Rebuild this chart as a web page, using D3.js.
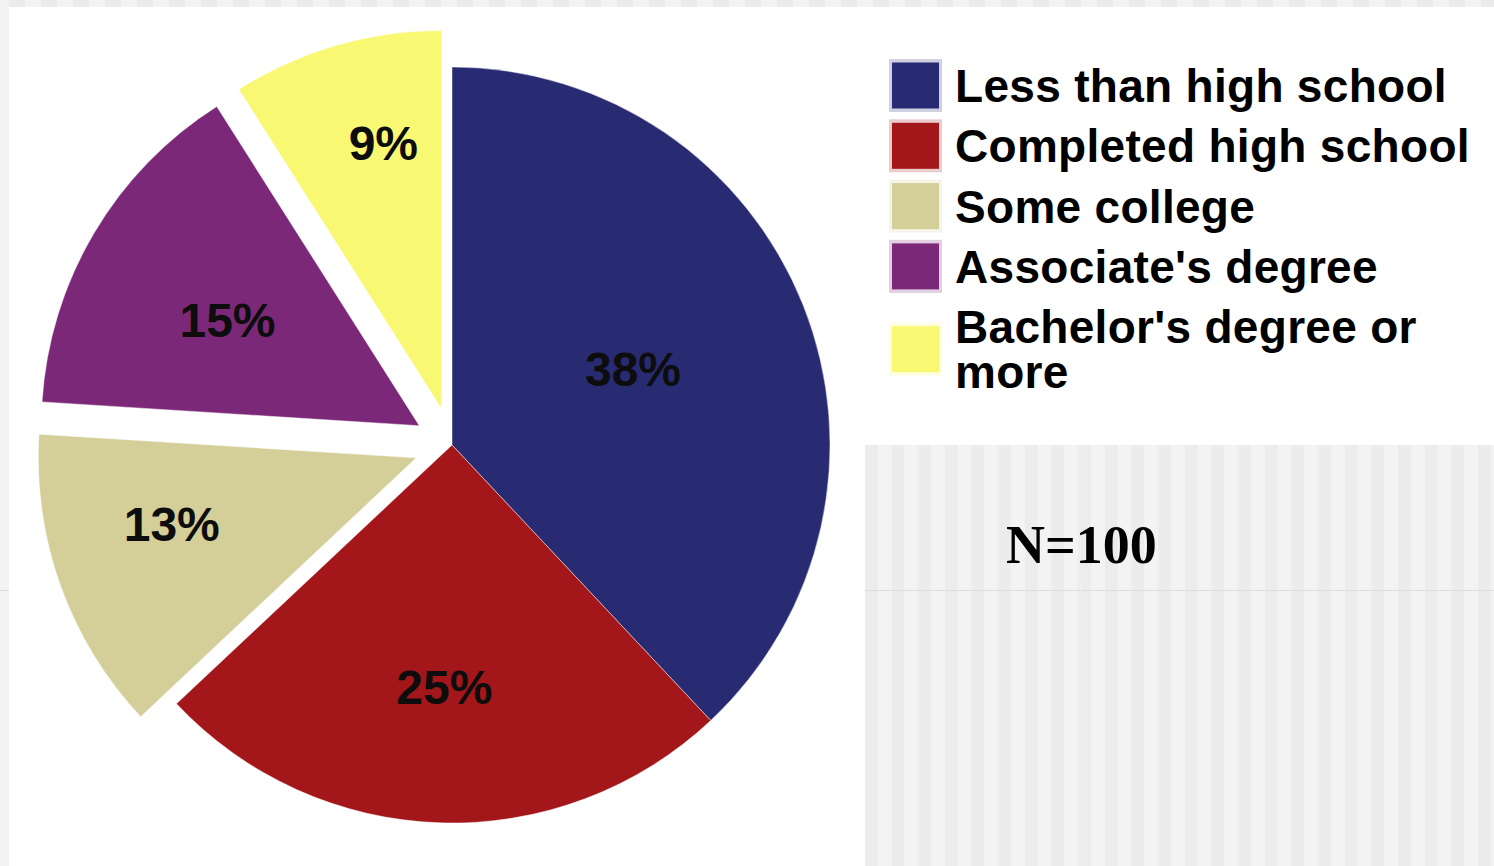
<!DOCTYPE html>
<html>
<head>
<meta charset="utf-8">
<script src="https://cdn.jsdelivr.net/npm/d3@7"></script>
<style>
  html, body { margin: 0; padding: 0; background: #f3f3f3; }
  svg { display: block; }
</style>
</head>
<body>
<svg id="chart" width="1494" height="866"></svg>
<script>
// Education level of respondents (percent of N=100)
const categories = [
  "Less than high school",
  "Completed high school",
  "Some college",
  "Associate's degree",
  "Bachelor's degree or more"
];
const values = [38, 25, 13, 15, 9];
const colors = ["#282a72", "#a3161a", "#d4ce98", "#7c2879", "#f9f873"];
const exploded = [false, false, true, true, true];
const sampleNote = "N=100";

// label placement inside each slice: distance as a fraction of the radius,
// and position across the slice's sweep (0 = start edge, 1 = end edge)
const labelRadius = [0.52, 0.64, 0.67, 0.58, 0.72];
const labelSweep = [0.49, 0.5, 0.6, 0.47, 0.62];

const W = 1494, H = 866;
const svg = d3.select("#chart");

// ---- page backdrop: striped panels behind the white chart card ----
const defs = svg.append("defs");
function stripes(id, w, dark, light) {
  const p = defs.append("pattern").attr("id", id)
    .attr("patternUnits", "userSpaceOnUse").attr("width", 2 * w).attr("height", 10);
  p.append("rect").attr("width", w).attr("height", 10).attr("fill", dark);
  p.append("rect").attr("x", w).attr("width", w).attr("height", 10).attr("fill", light);
  return p;
}
stripes("stripeTop", 16, "#ebebeb", "#f3f3f3").attr("x", 9);
stripes("stripeLow", 13.33, "#ececec", "#f3f3f3").attr("x", 865);

svg.append("rect").attr("width", W).attr("height", H).attr("fill", "#f3f3f3");
svg.append("rect").attr("x", 9).attr("y", 0).attr("width", W - 9).attr("height", 7)
  .attr("fill", "url(#stripeTop)");
svg.append("rect").attr("x", 9).attr("y", 7).attr("width", W - 9).attr("height", H - 7)
  .attr("fill", "#ffffff");
svg.append("rect").attr("x", 865).attr("y", 445).attr("width", W - 865).attr("height", H - 445)
  .attr("fill", "url(#stripeLow)");
svg.append("line").attr("x1", 865).attr("x2", W).attr("y1", 590.5).attr("y2", 590.5)
  .attr("stroke", "#dddddd").attr("stroke-width", 1);
svg.append("line").attr("x1", 0).attr("x2", 9).attr("y1", 590.5).attr("y2", 590.5)
  .attr("stroke", "#dddddd").attr("stroke-width", 1);
svg.append("line").attr("x1", 1080.5).attr("x2", 1080.5).attr("y1", 445).attr("y2", H)
  .attr("stroke", "#eeeeee").attr("stroke-width", 1);

// ---- pie ----
const cx = 452, cy = 445, R = 378, explodeDist = 38;
const pie = d3.pie().sort(null).value(d => d.value).startAngle(0).endAngle(2 * Math.PI);
const data = categories.map((c, i) => ({
  name: c, value: values[i], color: colors[i], out: exploded[i],
  lr: labelRadius[i], ls: labelSweep[i]
}));
const arcs = pie(data);
const arc = d3.arc().innerRadius(0).outerRadius(R);

function offset(d) {
  if (!d.data.out) return [0, 0];
  const a = (d.startAngle + d.endAngle) / 2;
  return [Math.sin(a) * explodeDist, -Math.cos(a) * explodeDist];
}
function labelPos(d) {
  const r = R * d.data.lr;
  const a = d.startAngle + (d.endAngle - d.startAngle) * d.data.ls;
  return [Math.sin(a) * r, -Math.cos(a) * r];
}

const pieG = svg.append("g").attr("transform", `translate(${cx},${cy})`);
const slices = pieG.selectAll("g.slice").data(arcs).join("g")
  .attr("class", "slice")
  .attr("transform", d => { const o = offset(d); return `translate(${o[0]},${o[1]})`; });

slices.append("path")
  .attr("d", arc)
  .attr("fill", d => d.data.color)
  .attr("stroke", "#ffffff")
  .attr("stroke-opacity", 0.45)
  .attr("stroke-width", 1);

slices.append("text")
  .attr("transform", d => `translate(${labelPos(d)})`)
  .attr("text-anchor", "middle")
  .attr("dy", "0.36em")
  .attr("font-family", "'Liberation Sans', Arial, sans-serif")
  .attr("font-weight", "bold")
  .attr("font-size", 48)
  .attr("fill", "#0d0d0d")
  .text(d => d.data.value + "%");

// ---- legend ----
const legendX = 892, textX = 955, rowStart = 85.5, rowStep = 60.3, lineH = 45, maxTextW = 530;
const legend = svg.append("g").attr("font-family", "'Liberation Sans', Arial, sans-serif")
  .attr("font-weight", "bold").attr("font-size", 46).attr("letter-spacing", 0.3).attr("fill", "#000");

let rowY = rowStart;
data.forEach((d, i) => {
  const t = legend.append("text").attr("x", textX).attr("y", rowY).attr("dy", "0.36em");
  // wrap words to the legend width
  const words = d.name.split(" ");
  let line = [], lines = [];
  let tspan = t.append("tspan").attr("x", textX);
  words.forEach(w => {
    line.push(w);
    tspan.text(line.join(" "));
    if (tspan.node().getComputedTextLength() > maxTextW && line.length > 1) {
      line.pop();
      tspan.text(line.join(" "));
      lines.push(tspan);
      line = [w];
      tspan = t.append("tspan").attr("x", textX).attr("dy", lineH).text(w);
    }
  });
  lines.push(tspan);
  const blockCenter = rowY + (lines.length - 1) * lineH / 2;
  legend.append("rect")
    .attr("x", legendX - 3).attr("y", blockCenter - 26.5)
    .attr("width", 53).attr("height", 53)
    .attr("fill", d.color).attr("opacity", 0.22);
  legend.append("rect")
    .attr("x", legendX).attr("y", blockCenter - 23)
    .attr("width", 47).attr("height", 46)
    .attr("fill", d.color);
  rowY += rowStep + (lines.length - 1) * lineH;
});

// ---- sample size note ----
svg.append("text")
  .attr("x", 1006).attr("y", 563)
  .attr("font-family", "'Liberation Serif', 'Times New Roman', serif")
  .attr("font-weight", "bold")
  .attr("font-size", 54)
  .attr("fill", "#000")
  .text(sampleNote);
</script>
</body>
</html>
